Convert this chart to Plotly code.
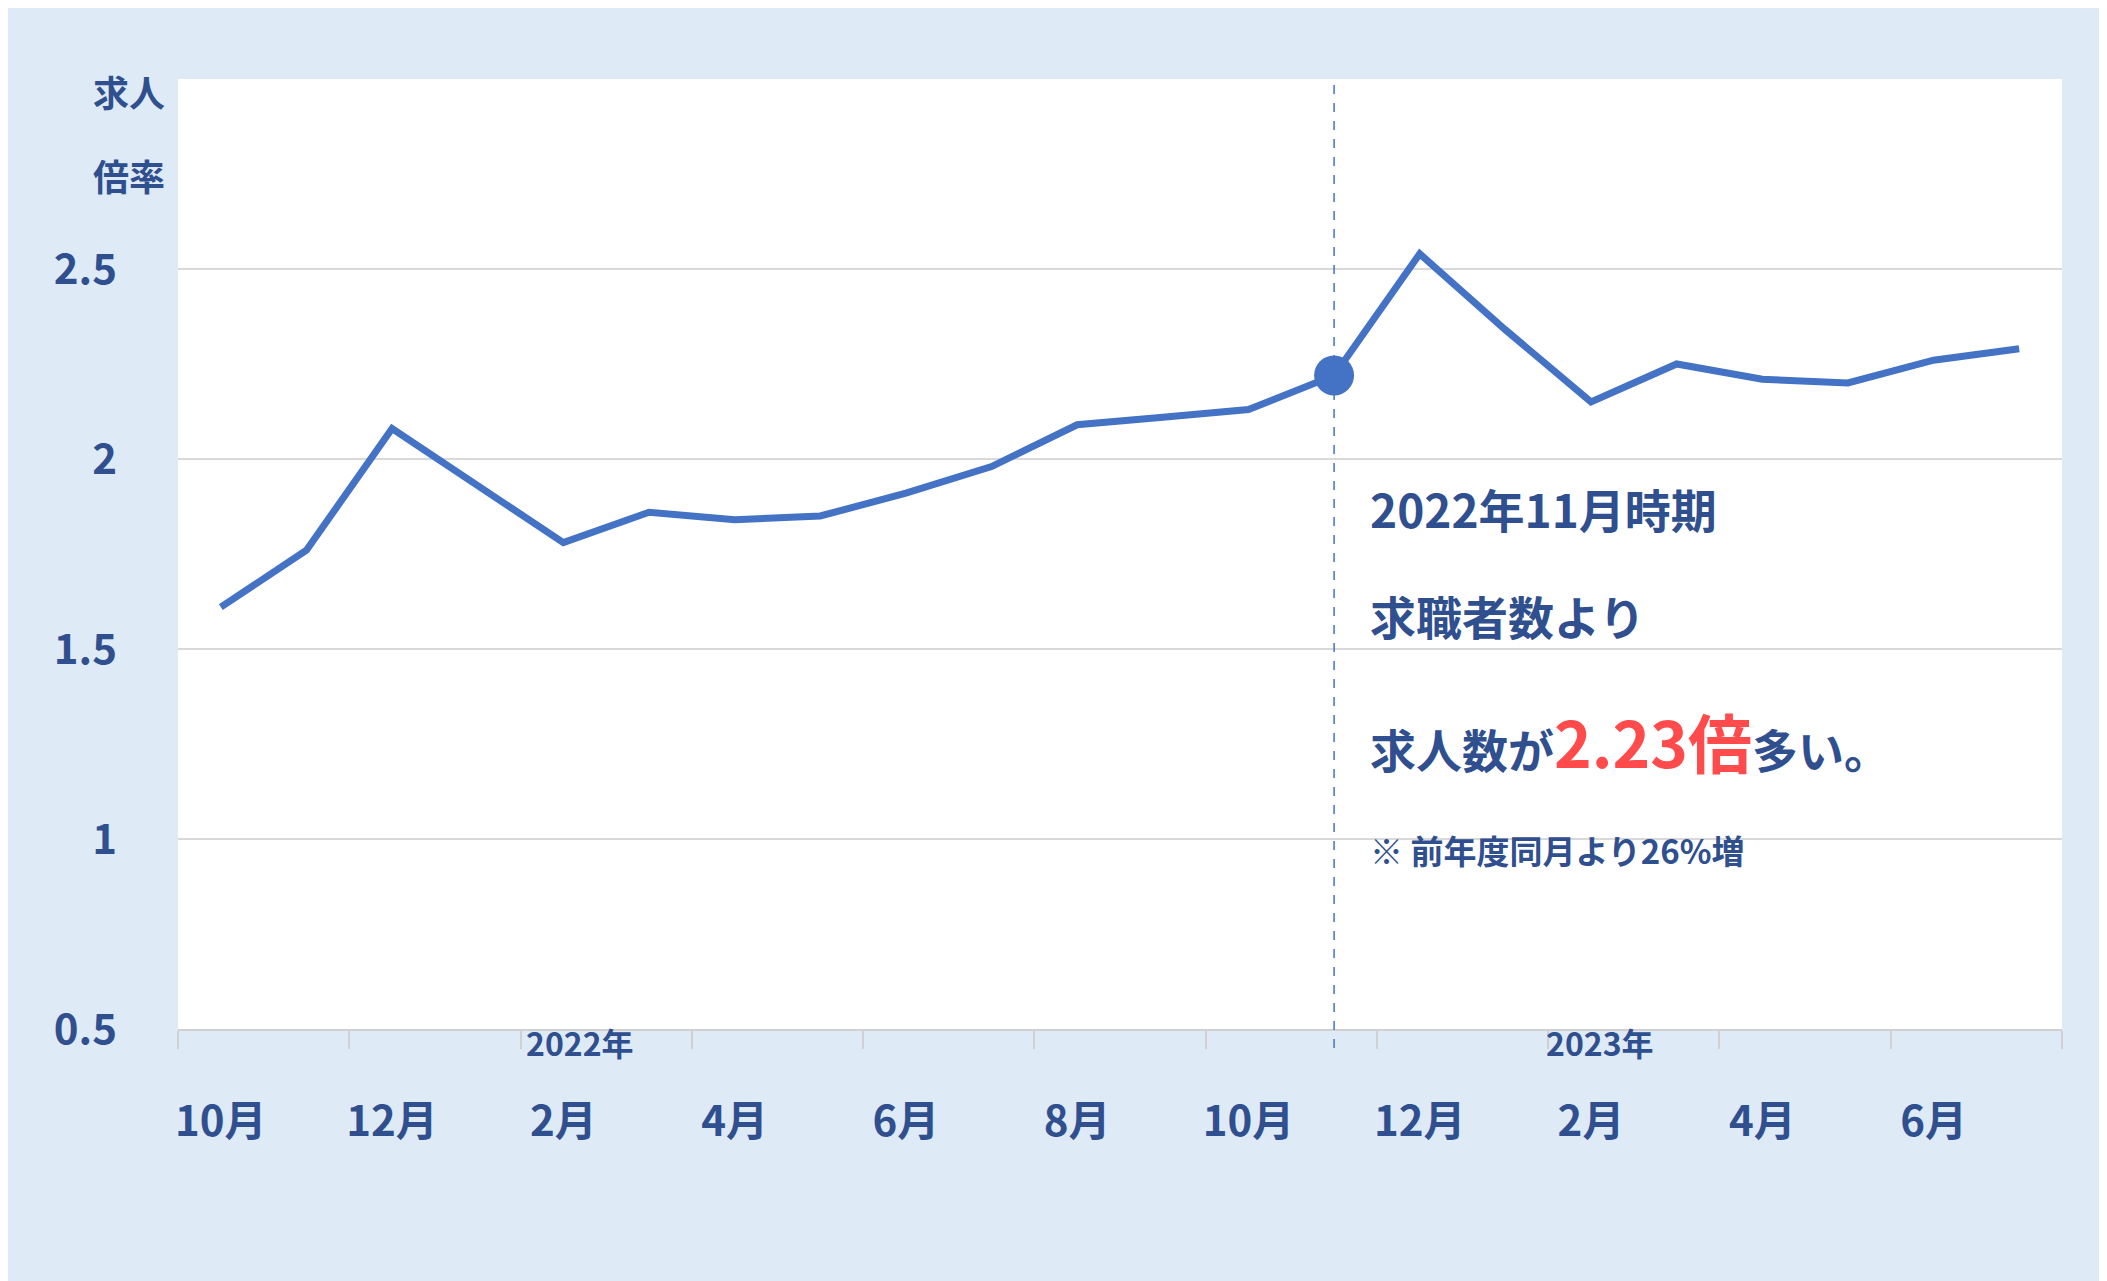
import plotly.graph_objects as go

months = ["2021-10", "2021-11", "2021-12", "2022-01", "2022-02", "2022-03", "2022-04",
          "2022-05", "2022-06", "2022-07", "2022-08", "2022-09", "2022-10", "2022-11",
          "2022-12", "2023-01", "2023-02", "2023-03", "2023-04", "2023-05", "2023-06", "2023-07"]
ratio = [1.61, 1.76, 2.08, 1.93, 1.78, 1.86, 1.84, 1.85, 1.91, 1.98, 2.09, 2.11, 2.13, 2.22,
         2.54, 2.34, 2.15, 2.25, 2.21, 2.20, 2.26, 2.29]
tick_labels = ["10月", "12月", "2月", "4月", "6月", "8月", "10月", "12月", "2月", "4月", "6月"]
years = [("2022年", 4.2), ("2023年", 16.1)]
highlight = 13

FONT = "Noto Sans CJK JP"
BLUE = "#2f4f8f"
idx = list(range(len(months)))

def f(size, color=BLUE):
    return dict(family=FONT, size=size, color=color, weight=700)

fig = go.Figure()
fig.add_trace(go.Scatter(x=idx, y=ratio, mode="lines",
                         line=dict(color="#4472c4", width=7), hoverinfo="skip"))
fig.add_trace(go.Scatter(x=[idx[highlight]], y=[ratio[highlight]], mode="markers",
                         marker=dict(color="#4472c4", size=40)))

fig.add_shape(type="line", xref="x", yref="paper", x0=highlight, x1=highlight,
              y0=-0.02, y1=1, line=dict(color="#4472c4", width=1.5, dash="dash"))

for txt, xv in years:
    fig.add_annotation(x=xv, y=0, xref="x", yref="paper", yshift=-38, text=txt,
                       showarrow=False, font=f(32))

# y axis title, two lines
for txt, ys in [("求人", 16), ("倍率", -68)]:
    fig.add_annotation(x=0, y=1, xref="paper", yref="paper", xshift=-87, yshift=ys,
                       text=txt, showarrow=False, font=f(36))

notes = [("2022年11月時期", 1.87, 46), ("求職者数より", 1.59, 46),
         ("求人数が<span style='color:#ff4b4b;font-size:64px'>2.23倍</span>多い。", 1.26, 46),
         ("※ 前年度同月より26%増", 0.97, 33)]
for txt, yv, sz in notes:
    fig.add_annotation(x=13.4, y=yv, xref="x", yref="y", xanchor="left", text=txt,
                       showarrow=False, font=f(sz))

fig.update_layout(
    width=2107, height=1281, margin=dict(l=170, r=53, t=71, b=260),
    paper_bgcolor="#deeaf6", plot_bgcolor="white", showlegend=False,
    xaxis=dict(range=[-0.5, 21.5], tickvals=idx[::2], ticktext=tick_labels,
               showgrid=False, zeroline=False, ticks="", showline=True,
               linecolor="#d0d0d0", linewidth=2, ticklabelstandoff=55,
               tickfont=f(42),
               minor=dict(tickmode="linear", tick0=-0.5, dtick=2, ticks="outside",
                          ticklen=18, tickcolor="#d0d0d0", tickwidth=2, showgrid=False)),
    yaxis=dict(range=[0.5, 3.0], tickvals=[0.5, 1, 1.5, 2, 2.5],
               ticktext=["0.5", "1", "1.5", "2", "2.5"], gridcolor="#d9d9d9",
               gridwidth=2, zeroline=False, ticklabelstandoff=60,
               tickfont=f(42)),
)
fig.write_html("out.html")
